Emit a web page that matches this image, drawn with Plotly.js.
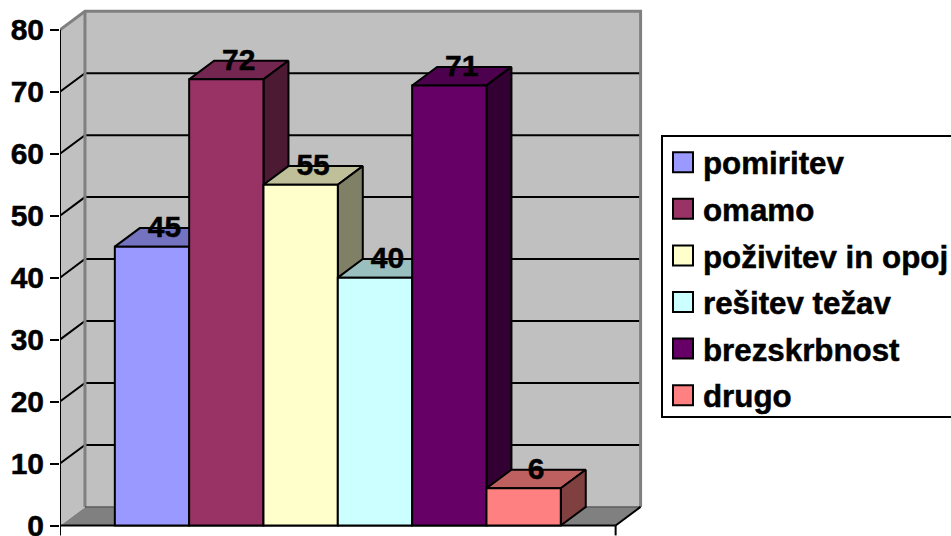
<!DOCTYPE html>
<html><head><meta charset="utf-8">
<script src="https://cdn.plot.ly/plotly-3.0.1.min.js"></script>
<style>
html,body{margin:0;padding:0;background:#fff;overflow:hidden}#c{width:951px;height:536px}
.legend .legendpoints path{d:path("M10 10H-10V-10H10Z") !important;}
.legend .bg{height:281px !important;transform:translateY(2px);}
.ytick text,.legendtext,.textpoint text{stroke:#000;stroke-width:.5px;}
</style>
</head><body><div id="c"></div>
<script>
const categories = ['pomiritev','omamo','poživitev in opoj','rešitev težav','brezskrbnost','drugo'];
const values = [45,72,55,40,71,6];
const valueLabels = ['45','72','55','40','71','6'];
const frontColors = ['#9999FF','#993366','#FFFFCC','#CCFFFF','#660066','#FF8080'];
const topColors   = ['#7373BF','#732650','#BFBF99','#99BFBF','#4D004D','#BF6060'];
const sideColors  = ['#4D4D80','#4D1A33','#808066','#668080','#330033','#804040'];
const yTicks = [0,10,20,30,40,50,60,70,80];

const FONT = 'Liberation Sans, Arial, sans-serif';
const DX = 0.336, DY = 3;              // depth of the fake 3D box, in axis units
const XL = -1.2377, XR = 6.2377;       // front floor ends
const YTOP = 80, YLOW = -1.6;
const xRange = [XL, 6.633], yRange = [-1.695, 84.81];

const poly = (xs, ys, fill, lineColor, w) => ({
  type:'scatter', mode:'lines', x:xs, y:ys, fill:'toself', fillcolor:fill,
  line:{color:lineColor, width:w}, showlegend:false, hoverinfo:'skip', cliponaxis:false
});
const line = (xs, ys, color, w) => ({
  type:'scatter', mode:'lines', x:xs, y:ys, line:{color, width:w},
  showlegend:false, hoverinfo:'skip', cliponaxis:false
});

const traces = [];
// walls and floor
traces.push(poly([XL+DX,XR+DX,XR+DX,XL+DX,XL+DX],[DY,DY,YTOP+DY,YTOP+DY,DY],'#C0C0C0','rgba(0,0,0,0)',0));
traces.push(poly([XL,XL+DX,XL+DX,XL,XL],[0,DY,YTOP+DY,YTOP,0],'#C0C0C0','rgba(0,0,0,0)',0));
traces.push(poly([XL,XR,XR+DX,XL+DX,XL],[0,0,DY,DY,0],'#808080','rgba(0,0,0,0)',0));
// gridlines, back wall and side wall
const gx = [], gy = [];
yTicks.filter(t => t > 0 && t < YTOP).forEach(t => {
  gx.push(XL, XL+DX, XR+DX, null); gy.push(t, t+DY, t+DY, null);
});
traces.push(line(gx, gy, '#000000', 2));
// wall borders
traces.push(line([XL,XL+DX,XR+DX,XR+DX],[YTOP,YTOP+DY,YTOP+DY,DY],'#808080',3));
traces.push(line([XL+DX,XL+DX],[DY,YTOP+DY],'#808080',3));
traces.push(line([XL+DX,XR+DX],[DY,DY],'#404040',1));
traces.push(line([XL,XL+DX],[0,DY],'#C0C0C0',1));
// floor front edge, axis line, floor right edge and end ticks
traces.push(line([XR,XR+DX],[0,DY],'#000000',2));
traces.push(line([XR,XR],[0,YLOW],'#000000',2));

// depth faces, left to right so each covers the one before it
values.forEach((v,i) => {
  const l = i-0.5, r = i+0.5;
  traces.push(poly([l,r,r+DX,l+DX,l],[v,v,v+DY,v+DY,v],topColors[i],'#000000',2));
  traces.push(poly([r,r+DX,r+DX,r,r],[0,DY,v+DY,v,0],sideColors[i],'#000000',2));
});

traces.push(line([XL,XR],[0,0],'#000000',2));
traces.push(line([XL,XL],[YLOW,YTOP],'#000000',2));

// front faces: real bars on an overlaid subplot, above all depth faces
categories.forEach((c,i) => {
  traces.push({type:'bar', x:[i], y:[values[i]], width:[1], base:0, name:c, legendgroup:c,
    xaxis:'x2', yaxis:'y2', marker:{color:frontColors[i], line:{color:'#000000', width:2}},
    hoverinfo:'name+y'});
});
// value labels, centred on the back edge of each bar's top face
traces.push({type:'scatter', mode:'text', xaxis:'x2', yaxis:'y2',
  x:values.map((v,i) => i+DX/2), y:values.map(v => v+DY-0.3), text:valueLabels,
  textposition:'middle center', textfont:{family:FONT, size:30, color:'#000000', weight:700},
  showlegend:false, hoverinfo:'skip', cliponaxis:false});

const layout = {
  width:951, height:536, autosize:false,
  margin:{l:60, r:306, t:0, b:0, pad:0},
  paper_bgcolor:'#FFFFFF', plot_bgcolor:'rgba(0,0,0,0)',
  barmode:'overlay', showlegend:true,
  font:{family:FONT, color:'#000000'},
  xaxis:{range:xRange, showgrid:false, zeroline:false, showticklabels:false, ticks:'', showline:false, fixedrange:true},
  yaxis:{range:yRange, tickvals:yTicks, ticktext:yTicks.map(String), ticks:'outside', ticklen:9, tickwidth:2,
    tickcolor:'#000000', showgrid:false, zeroline:false, showline:false, fixedrange:true, ticklabeloverflow:'allow',
    tickfont:{family:FONT, size:30, color:'#000000', weight:700}},
  xaxis2:{range:xRange, overlaying:'x', visible:false, fixedrange:true},
  yaxis2:{range:yRange, overlaying:'y', visible:false, fixedrange:true},
  legend:{xref:'container', yref:'container', x:661/951, y:1-133.4/536, xanchor:'left', yanchor:'top', maxheight:500,
    bgcolor:'rgba(0,0,0,0)', bordercolor:'#000000', borderwidth:2, itemwidth:30, tracegroupgap:2.9,
    font:{family:FONT, size:31.3, color:'#000000', weight:700}, itemclick:false, itemdoubleclick:false}
};

Plotly.newPlot('c', traces, layout, {displayModeBar:false, staticPlot:true});
</script></body></html>
